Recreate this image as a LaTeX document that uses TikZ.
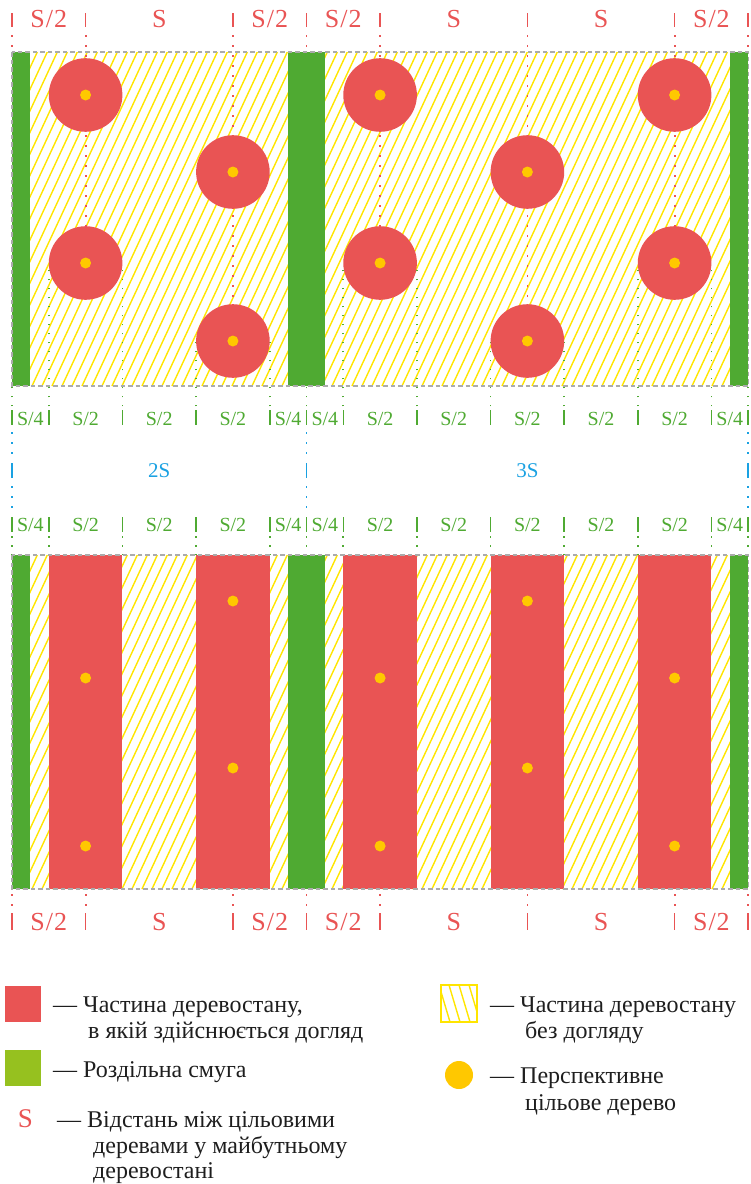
\documentclass[tikz,border=0pt]{standalone}
\usepackage{fontspec}
\setmainfont{Liberation Serif}
\definecolor{cred}{HTML}{E95454}
\definecolor{cgreen}{HTML}{4FAA32}
\definecolor{lgreen}{HTML}{96C11F}
\definecolor{cblue}{HTML}{1AA1E2}
\definecolor{hatchc}{HTML}{FFE500}
\definecolor{cdot}{HTML}{FFC800}
\definecolor{bordc}{HTML}{ABABAB}
\definecolor{ink}{HTML}{1E1E1E}
\begin{document}
\begin{tikzpicture}[x=1pt,y=-1pt,
  redlab/.style={text=cred,font=\fontsize{26}{30}\selectfont,anchor=base,inner sep=0pt},
  greenlab/.style={text=cgreen,font=\fontsize{20}{24}\selectfont,anchor=base,inner sep=0pt},
  bluelab/.style={text=cblue,font=\fontsize{21}{25}\selectfont,anchor=base,inner sep=0pt},
  legtext/.style={text=ink,font=\fontsize{24}{27}\selectfont,anchor=base west,inner sep=0pt},
  hatchline/.style={draw=hatchc,line width=1.4pt},
  reddots/.style={draw=cred,line width=1.8pt,dash pattern=on 1.8pt off 8.2pt},
  redtick/.style={draw=cred,line width=1.6pt},
  greendots/.style={draw=cgreen,line width=1.8pt,dash pattern=on 1.8pt off 7.2pt},
  greentick/.style={draw=cgreen,line width=1.6pt},
  bluedots/.style={draw=cblue,line width=1.8pt,dash pattern=on 1.8pt off 8.2pt},
  bluetick/.style={draw=cblue,line width=1.6pt},
  panelborder/.style={draw=bordc,line width=1.3pt,dash pattern=on 4.5pt off 3pt},
  tree/.style={fill=cred},
  target/.style={fill=cdot},
  strip/.style={fill=cgreen}
]
\useasboundingbox (0,0) rectangle (751,1184);

% ---------- hatching ----------
\begin{scope}
  \clip (12,52) rectangle (748.2,386);
  \foreach \k in {-16,...,74} {\draw[hatchline] (12+\k*10,386) -- ++(155.3,-334);}
\end{scope}
\begin{scope}
  \clip (12,555) rectangle (748.2,889);
  \foreach \k in {-16,...,74} {\draw[hatchline] (12+\k*10,889) -- ++(155.3,-334);}
\end{scope}

% ---------- green separating strips ----------
\foreach \a/\b in {12/30.4, 288.1/324.9, 729.8/748.2} {
  \fill[strip] (\a,52) rectangle (\b,386);
  \fill[strip] (\a,555) rectangle (\b,889);
}

% ---------- red care strips (bottom) ----------
\foreach \a/\b in {48.8/122.4, 196.0/269.7, 343.3/416.9, 490.5/564.2, 637.8/711.4} {
  \fill[tree] (\a,555) rectangle (\b,889);
}

% ---------- red dimension lines (top) ----------
\foreach \x/\y in {12/52, 85.6/263, 232.9/341, 306.5/52, 380.1/263, 527.4/341, 674.6/263, 748.2/52} {
  \draw[redtick] (\x,13) -- (\x,27);
  \draw[reddots] (\x,35.2) -- (\x,\y);
}
% ---------- red dimension lines (bottom) ----------
\foreach \x in {12, 85.6, 232.9, 306.5, 380.1, 527.4, 674.6, 748.2} {
  \draw[reddots] (\x,894.2) -- (\x,911);
  \draw[redtick] (\x,913) -- (\x,930);
}

% ---------- green dimension lines ----------
\foreach \x/\y in {12/386, 48.8/263, 122.4/263, 196.0/341, 269.7/341, 306.5/386,
                   343.3/263, 416.9/263, 490.5/341, 564.2/341, 637.8/263, 711.4/263, 748.2/386} {
  \draw[greendots] (\x,406.4) -- (\x,\y);
  \draw[greentick] (\x,410) -- (\x,425);
  \draw[greentick] (\x,517) -- (\x,532);
  \draw[greendots] (\x,536) -- (\x,555);
}

% ---------- blue dimension lines ----------
\foreach \x in {12, 306.5, 748.2} {
  \draw[bluedots] (\x,432) -- (\x,461);
  \draw[bluetick] (\x,463) -- (\x,478);
  \draw[bluedots] (\x,486.4) -- (\x,512);
}

% ---------- top crowns ----------
\foreach \x/\y in {85.6/95, 232.9/172, 85.6/263, 232.9/341,
                   380.1/95, 527.4/172, 380.1/263, 527.4/341, 674.6/95, 674.6/263} {
  \fill[tree] (\x,\y) circle (36.8pt);
  \fill[target] (\x,\y) circle (5.5pt);
}
% ---------- bottom target trees ----------
\foreach \x/\y in {85.6/678, 85.6/846, 232.9/601, 232.9/768,
                   380.1/678, 380.1/846, 527.4/601, 527.4/768, 674.6/678, 674.6/846} {
  \fill[target] (\x,\y) circle (5.5pt);
}

% ---------- panel borders ----------
\draw[panelborder] (12,52) rectangle (748.2,386);
\draw[panelborder] (12,555) rectangle (748.2,889);

% ---------- labels ----------
\foreach \x/\t [count=\i] in {48.8/{S\kern1pt/\kern1pt2}, 159.3/{S}, 269.7/{S\kern1pt/\kern1pt2}, 343.3/{S\kern1pt/\kern1pt2}, 453.8/{S}, 601.0/{S}, 711.4/{S\kern1pt/\kern1pt2}} {
  \node[redlab] (top\i) at (\x,27) {\t};
  \node[redlab] (bot\i) at (\x,930) {\t};
}
\foreach \x/\t [count=\i] in {30.4/{S/4}, 85.6/{S/2}, 159.2/{S/2}, 232.9/{S/2}, 288.1/{S/4},
                              324.9/{S/4}, 380.1/{S/2}, 453.7/{S/2}, 527.4/{S/2}, 601.0/{S/2}, 674.6/{S/2}, 729.8/{S/4}} {
  \node[greenlab] (ga\i) at (\x,425) {\t};
  \node[greenlab] (gb\i) at (\x,531) {\t};
}
\node[bluelab] (twoS) at (159.3,477) {2S};
\node[bluelab] (threeS) at (527.4,477) {3S};

% ---------- legend ----------
\fill[tree] (5,986) rectangle (41,1022);
\node[legtext] (l1a) at (53,1012) {— Частина деревостану,};
\node[legtext] (l1b) at (88,1038) {в якій здійснюється догляд};
\fill[lgreen] (5,1050) rectangle (41,1086);
\node[legtext] (l2a) at (53,1077) {— Роздільна смуга};
\node[redlab,font=\fontsize{27}{30}\selectfont] (lS) at (25.5,1127) {S};
\node[legtext] (l3a) at (57,1127) {— Відстань між цільовими};
\node[legtext] (l3b) at (93,1153) {деревами у майбутньому};
\node[legtext] (l3c) at (93,1178) {деревостані};

\begin{scope}
  \clip (441,985) rectangle (477,1022);
  \foreach \k in {-1,...,4} {\draw[hatchline] (439+\k*10,985) -- ++(11,37);}
\end{scope}
\draw[draw=hatchc,line width=1.5pt] (441,985) rectangle (477,1022);
\node[legtext] (r1a) at (490,1012) {— Частина деревостану};
\node[legtext] (r1b) at (525,1038) {без догляду};
\fill[target] (459,1075) circle (14pt);
\node[legtext] (r2a) at (490,1083) {— Перспективне};
\node[legtext] (r2b) at (525,1110) {цільове дерево};
\end{tikzpicture}
\end{document}
